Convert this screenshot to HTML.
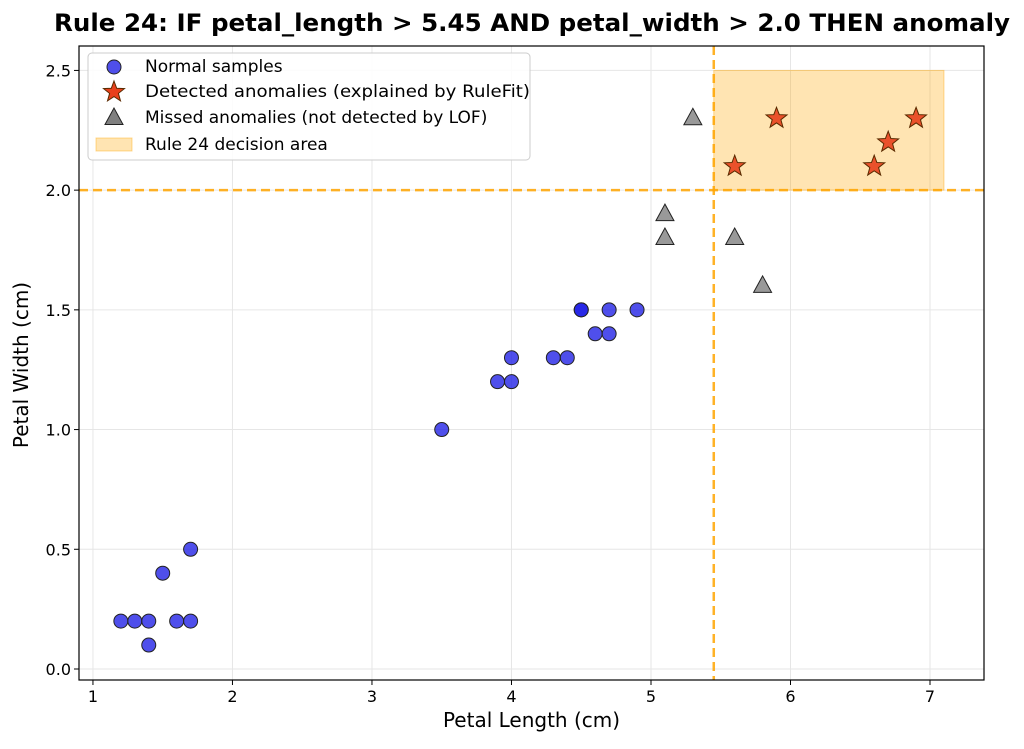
<!DOCTYPE html>
<html><head><meta charset="utf-8"><style>
body{margin:0;background:#fff;font-family:"Liberation Sans","DejaVu Sans",sans-serif}
svg text{font-family:"DejaVu Sans","Liberation Sans",sans-serif}
</style></head><body>
<svg id="chart" width="1024" height="744" xmlns="http://www.w3.org/2000/svg"></svg>
<script>
const xTicks=[1,2,3,4,5,6,7];
const yTicks=[0.0,0.5,1.0,1.5,2.0,2.5];
const normalX=[1.2,1.3,1.4,1.4,1.6,1.7,1.5,1.7,3.5,3.9,4.0,4.0,4.3,4.4,4.5,4.5,4.6,4.7,4.7,4.9];
const normalY=[0.2,0.2,0.2,0.1,0.2,0.2,0.4,0.5,1.0,1.2,1.2,1.3,1.3,1.3,1.5,1.5,1.4,1.4,1.5,1.5];
const anomX=[5.6,5.9,6.6,6.7,6.9];
const anomY=[2.1,2.3,2.1,2.2,2.3];
const missX=[5.3,5.1,5.1,5.6,5.8];
const missY=[2.3,1.9,1.8,1.8,1.6];
const ruleX=[5.45,7.1];
const ruleY=[2.0,2.5];
const thresholdX=5.45, thresholdY=2.0;

const L=79,R=984,T=46,B=680;
const X0=0.9,X1=7.387,Y0=-0.046,Y1=2.602;
const sx=v=>L+(v-X0)/(X1-X0)*(R-L);
const sy=v=>B-(v-Y0)/(Y1-Y0)*(B-T);
const svg=document.getElementById('chart');
const NS='http://www.w3.org/2000/svg';
function mk(tag,attrs,name,parent){const e=document.createElementNS(NS,tag);for(const k in attrs)e.setAttribute(k,attrs[k]);


(parent||svg).appendChild(e);return e;}
function txt(s,attrs,name){const e=mk('text',attrs,name);e.textContent=s;return e;}

xTicks.forEach(t=>mk('line',{x1:sx(t),x2:sx(t),y1:T,y2:B,stroke:'#e6e6e6','stroke-width':1},'x-grid-line'));
yTicks.forEach(t=>mk('line',{x1:L,x2:R,y1:sy(t),y2:sy(t),stroke:'#e6e6e6','stroke-width':1},'y-grid-line'));
mk('rect',{x:sx(ruleX[0]),y:sy(ruleY[1]),width:sx(ruleX[1])-sx(ruleX[0]),height:sy(ruleY[0])-sy(ruleY[1]),fill:'#ffa500','fill-opacity':0.3,stroke:'#ffa500','stroke-opacity':0.4},'rule-decision-area');
mk('line',{x1:sx(thresholdX),x2:sx(thresholdX),y1:T,y2:B,stroke:'#ffa500','stroke-width':2.5,'stroke-dasharray':'9,5','stroke-opacity':0.85},'threshold-x-line');
mk('line',{x1:L,x2:R,y1:sy(thresholdY),y2:sy(thresholdY),stroke:'#ffa500','stroke-width':2.5,'stroke-dasharray':'9,5','stroke-opacity':0.85},'threshold-y-line');
normalX.forEach((v,i)=>mk('circle',{cx:sx(v),cy:sy(normalY[i]),r:7,fill:'#1e1ee6','fill-opacity':0.78,stroke:'#222','stroke-width':1},'normal-point'));
function star(cx,cy,r){let p=[];for(let i=0;i<10;i++){const a=-Math.PI/2+i*Math.PI/5,rr=i%2?r*0.42:r;p.push((cx+rr*Math.cos(a)).toFixed(1)+','+(cy+rr*Math.sin(a)).toFixed(1));}return p.join(' ');}
anomX.forEach((v,i)=>mk('polygon',{points:star(sx(v),sy(anomY[i]),11),fill:'#e8401c','fill-opacity':0.9,stroke:'#5a2a00','stroke-width':1},'anomaly-star'));
function tri(cx,cy,r){return `${cx},${cy-r} ${cx-r*0.9},${cy+r*0.65} ${cx+r*0.9},${cy+r*0.65}`;}
missX.forEach((v,i)=>mk('polygon',{points:tri(sx(v),sy(missY[i]),10),fill:'#808080','fill-opacity':0.8,stroke:'#222','stroke-width':1},'missed-triangle'));
mk('rect',{x:L,y:T,width:R-L,height:B-T,fill:'none',stroke:'#000','stroke-width':1.2},'plot-frame');
xTicks.forEach(t=>{mk('line',{x1:sx(t),x2:sx(t),y1:B,y2:B+5,stroke:'#000'},'x-tick');txt(String(t),{x:sx(t),y:B+22,'text-anchor':'middle','font-size':16},'x-tick-label');});
yTicks.forEach(t=>{mk('line',{x1:L-5,x2:L,y1:sy(t),y2:sy(t),stroke:'#000'},'y-tick');txt(t.toFixed(1),{x:L-8,y:sy(t)+6,'text-anchor':'end','font-size':16},'y-tick-label');});
txt('Petal Length (cm)',{x:(L+R)/2,y:727,'text-anchor':'middle','font-size':20},'x-axis-title');
txt('Petal Width (cm)',{x:0,y:0,transform:`translate(28,${(T+B)/2+2}) rotate(-90)`,'text-anchor':'middle','font-size':20},'y-axis-title');
txt('Rule 24: IF petal_length > 5.45 AND petal_width > 2.0 THEN anomaly',{x:532,y:31,'text-anchor':'middle','font-size':24,'font-weight':'bold',textLength:956,lengthAdjust:'spacingAndGlyphs'},'chart-title');
mk('rect',{x:88,y:53,width:442,height:107,rx:4,fill:'#fff','fill-opacity':0.85,stroke:'#ccc'},'legend-box');
mk('circle',{cx:114,cy:67,r:7,fill:'#1e1ee6','fill-opacity':0.78,stroke:'#222'},'legend-normal-marker');
txt('Normal samples',{x:145,y:72,'font-size':17},'legend-normal-label');
mk('polygon',{points:star(114,92,11),fill:'#e8401c',stroke:'#5a2a00'},'legend-anomaly-marker');
txt('Detected anomalies (explained by RuleFit)',{x:145,y:97,'font-size':17,textLength:385,lengthAdjust:'spacingAndGlyphs'},'legend-anomaly-label');
mk('polygon',{points:tri(114,118,10),fill:'#808080',stroke:'#222'},'legend-missed-marker');
txt('Missed anomalies (not detected by LOF)',{x:145,y:123,'font-size':17},'legend-missed-label');
mk('rect',{x:96,y:138,width:36,height:13,fill:'#ffa500','fill-opacity':0.3,stroke:'#ffa500','stroke-opacity':0.4},'legend-area-marker');
txt('Rule 24 decision area',{x:145,y:150,'font-size':17},'legend-area-label');
</script>
</body></html>
